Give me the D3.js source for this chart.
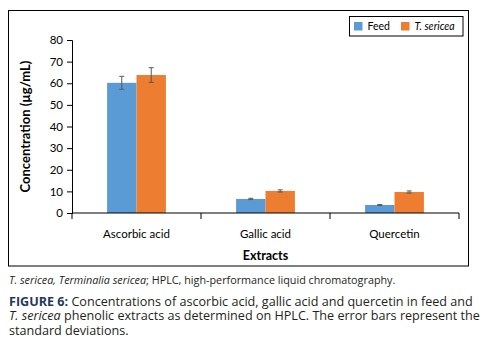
<!DOCTYPE html>
<html>
<head>
<meta charset="utf-8">
<script src="https://cdn.jsdelivr.net/npm/d3@7"></script>
<style>
  body { margin: 0; background: #fff; }
  svg { display: block; }
</style>
</head>
<body>
<svg id="chart" width="486" height="347"></svg>
<script>
// data
var categories = ["Ascorbic acid", "Gallic acid", "Quercetin"];
var seriesNames = ["Feed", "T. sericea"];
var feedValues = [60.2, 6.5, 3.7];
var feedErrors = [3.0, 0.3, 0.2];
var sericeaValues = [63.8, 10.2, 9.7];
var sericeaErrors = [3.4, 0.5, 0.5];
var yTicks = [0, 10, 20, 30, 40, 50, 60, 70, 80];

var colors = ["#5b9bd5", "#ed7d31"];
var chartFont = "Lato, 'Open Sans', sans-serif";
var capFont = "'Open Sans', 'Noto Sans', sans-serif";

var svg = d3.select("#chart");
var margin = {left: 72, right: 27, top: 40, bottom: 134};
var W = 486, H = 347;
var plotW = W - margin.left - margin.right; // 387
var plotH = 213 - margin.top;

// outer frame
svg.append("rect")
  .attr("x", 8.5).attr("y", 10.5)
  .attr("width", 460).attr("height", 255.5)
  .attr("fill", "none").attr("stroke", "#000").attr("stroke-width", 1);

var g = svg.append("g").attr("transform", "translate(" + margin.left + "," + margin.top + ")");

var x0 = d3.scaleBand().domain(categories).range([0, plotW]).paddingInner(0).paddingOuter(0);
var x1 = d3.scaleBand().domain(seriesNames).range([x0.bandwidth() * 0.272, x0.bandwidth() * 0.728]);
var y = d3.scaleLinear().domain([0, 80]).range([plotH, 0]);

var rows = categories.map(function(c, i) {
  return {cat: c, vals: [
    {s: seriesNames[0], v: feedValues[i], e: feedErrors[i], c: colors[0]},
    {s: seriesNames[1], v: sericeaValues[i], e: sericeaErrors[i], c: colors[1]}
  ]};
});

// y axis
var yAxis = g.append("g")
  .call(d3.axisLeft(y).tickValues(yTicks).tickSize(5).tickPadding(4));
yAxis.select(".domain").attr("stroke", "#000");
yAxis.selectAll(".tick line").attr("stroke", "#000");
yAxis.selectAll("text").attr("font-family", chartFont).attr("font-size", 11.5).attr("fill", "#000");

// bars
var grp = g.selectAll("g.cat").data(rows).enter().append("g")
  .attr("class", "cat")
  .attr("transform", function(d) { return "translate(" + x0(d.cat) + ",0)"; });

grp.selectAll("rect").data(function(d) { return d.vals; }).enter().append("rect")
  .attr("x", function(d) { return x1(d.s); })
  .attr("width", x1.bandwidth())
  .attr("y", function(d) { return y(d.v); })
  .attr("height", function(d) { return plotH - y(d.v); })
  .attr("fill", function(d) { return d.c; });

// error bars
var eb = grp.selectAll("g.err").data(function(d) { return d.vals; }).enter().append("g")
  .attr("class", "err")
  .attr("stroke", "#595959").attr("stroke-width", 1);
eb.append("line")
  .attr("x1", function(d) { return x1(d.s) + x1.bandwidth() / 2; })
  .attr("x2", function(d) { return x1(d.s) + x1.bandwidth() / 2; })
  .attr("y1", function(d) { return y(d.v + d.e); })
  .attr("y2", function(d) { return y(d.v - d.e); });
[1, -1].forEach(function(sgn) {
  eb.append("line")
    .attr("x1", function(d) { return x1(d.s) + x1.bandwidth() / 2 - 2.5; })
    .attr("x2", function(d) { return x1(d.s) + x1.bandwidth() / 2 + 2.5; })
    .attr("y1", function(d) { return y(d.v + sgn * d.e); })
    .attr("y2", function(d) { return y(d.v + sgn * d.e); });
});

// x axis
var xAxisG = g.append("g").attr("transform", "translate(0," + plotH + ")");
xAxisG.append("line").attr("x1", 0).attr("x2", plotW).attr("stroke", "#000");
xAxisG.selectAll("line.tk").data(d3.range(categories.length + 1)).enter().append("line")
  .attr("class", "tk")
  .attr("x1", function(i) { return i * x0.step(); })
  .attr("x2", function(i) { return i * x0.step(); })
  .attr("y1", 0).attr("y2", 6).attr("stroke", "#000");
xAxisG.selectAll("text").data(categories).enter().append("text")
  .attr("x", function(d) { return x0(d) + x0.bandwidth() / 2; })
  .attr("y", 25)
  .attr("text-anchor", "middle")
  .attr("font-family", chartFont).attr("font-size", 11.5)
  .text(function(d) { return d; });

// axis titles
g.append("text")
  .attr("x", plotW / 2).attr("y", plotH + 47)
  .attr("text-anchor", "middle")
  .attr("font-family", chartFont).attr("font-size", 12.5).attr("font-weight", "bold")
  .text("Extracts");
g.append("text")
  .attr("transform", "translate(-42," + plotH / 2 + ") rotate(-90)")
  .attr("text-anchor", "middle")
  .attr("font-family", chartFont).attr("font-size", 13).attr("font-weight", "bold")
  .text("Concentration (µg/mL)");

// legend
var lg = svg.append("g").attr("transform", "translate(349.5,16.5)");
lg.append("rect").attr("width", 113.5).attr("height", 19.5)
  .attr("fill", "#fff").attr("stroke", "#000").attr("stroke-width", 1);
var lx = [4.5, 51.5];
seriesNames.forEach(function(s, i) {
  lg.append("rect").attr("x", lx[i]).attr("y", 5.5).attr("width", 8.5).attr("height", 8.5).attr("fill", colors[i]);
  lg.append("text").attr("x", lx[i] + 13.5).attr("y", 13.5)
    .attr("font-family", chartFont).attr("font-size", 10.5)
    .attr("font-style", i === 1 ? "italic" : "normal")
    .text(s);
});

// caption
var note = svg.append("text").attr("x", 9).attr("y", 284)
  .attr("font-family", capFont).attr("font-size", 10.8).attr("fill", "#231f20");
note.append("tspan").attr("font-style", "italic").text("T. sericea, Terminalia sericea");
note.append("tspan").text("; HPLC, high-performance liquid chromatography.");

var capLines = [
  [{t: "FIGURE 6:", b: true}, {t: " Concentrations of ascorbic acid, gallic acid and quercetin in feed and"}],
  [{t: "T. sericea", i: true}, {t: " phenolic extracts as determined on HPLC. The error bars represent the"}],
  [{t: "standard deviations."}]
];
capLines.forEach(function(line, k) {
  var t = svg.append("text").attr("x", 9).attr("y", 306 + k * 14.3)
    .attr("font-family", capFont).attr("font-size", 12.6).attr("fill", "#231f20");
  line.forEach(function(seg) {
    t.append("tspan")
      .attr("font-weight", seg.b ? "bold" : "normal")
      .attr("font-style", seg.i ? "italic" : "normal")
      .attr("fill", seg.b ? "#1f3a5a" : null)
      .text(seg.t);
  });
});
</script>
</body>
</html>
